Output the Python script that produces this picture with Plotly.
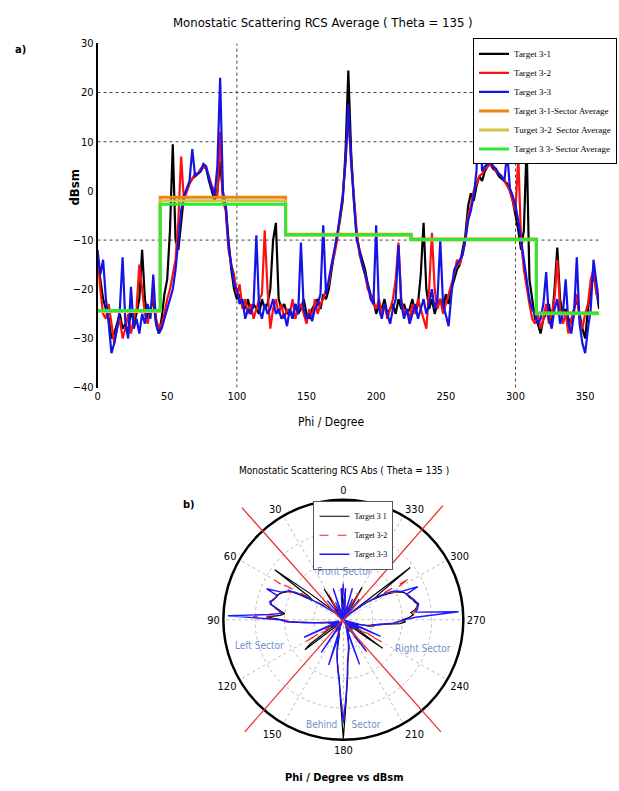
import plotly.graph_objects as go

W, H = 619, 791

# ---------------- data ----------------
phi = list(range(0, 361, 2))  # degrees

target_3_1 = [
    -14, -18, -22, -24, -26, -30, -29, -27, -25, -28,
    -27, -29, -24, -27, -25, -22, -12, -22, -26, -24,
    -22, -27, -29, -26, -21, -18, -8, 9.5, -10, -12,
    -6, -1, 0, 1.5, 2.5, 3, 3.5, 4, 5, 4.5,
    2, 0, -2, 0, 6, -1, -3, -10, -16, -20,
    -22, -21, -23, -24, -22, -25, -23, -24, -25, -22,
    -24, -23, -20, -10, -6.5, -22, -24, -23, -25, -24,
    -26, -23, -25, -24, -22, -25, -26, -24, -23, -22,
    -24, -21, -22, -20, -16, -12, -9, -6, -2, 8,
    24.5, 8, -2, -9, -12, -14, -16, -19, -21, -22,
    -25, -23, -24, -22, -25, -24, -23, -25, -22, -24,
    -23, -25, -24, -22, -25, -23, -17, -6.5, -20, -24,
    -22, -25, -23, -22, -24, -21, -23, -20, -18, -16,
    -15, -12, -9, -3, -0.5, -2, 1, 3, 2, 4,
    5, 5.5, 4.5, 4, 3, 2.5, 2, 1.5, 0, -2,
    -5, -8, -12, -8, 9.5, -18, -22, -26, -27, -29,
    -26, -25, -23, -27, -20, -11.5, -22, -25, -24, -26,
    -27, -24, -22, -25, -28, -30, -24, -20, -17, -20,
    -24,
]

target_3_2 = [
    -13, -20, -25, -26, -23, -27, -31, -28, -26, -30,
    -28, -25, -29, -26, -24, -15, -20, -25, -27, -24,
    -21, -26, -28, -27, -25, -22, -20, -17, -14, -6,
    7, -2, 0, 1.5, 2.5, 3.5, 3.5, 4.5, 5, 4.5,
    3, 1, 0, -1, 12, -2, -4, -12, -15, -17,
    -21, -19, -24, -22, -25, -23, -26, -24, -22, -21,
    -8, -20, -28, -24, -22, -25, -23, -26, -24, -25,
    -22, -26, -24, -23, -25, -27, -24, -26, -22, -25,
    -23, -22, -20, -19, -15, -13, -10, -6, -1, 6,
    15, 6, -1, -8, -13, -15, -17, -20, -21, -23,
    -24, -22, -25, -23, -26, -24, -22, -18, -10.5, -22,
    -25, -24, -26, -23, -25, -22, -24, -26, -28, -20,
    -8.5, -20, -24, -22, -25, -23, -21, -19, -17, -14,
    -15, -13, -10, -5, -3, 0, 1.5, 3, 3.5, 4.5,
    5, 5.5, 5, 4, 3.5, 3, 2, 1, 0, -2,
    -4, 7, -10, -16, -20, -23, -26, -27, -25, -28,
    -26, -23, -27, -25, -22, -14, -24, -27, -25, -29,
    -26, -24, -21, -26, -28, -25, -23, -18, -16, -21,
    -22,
]

target_3_3 = [
    -12, -17, -14, -22, -27, -33, -31, -28, -24, -13.5,
    -27, -30, -19.5, -28, -26, -29, -25, -27, -23, -26,
    -17, -27, -29, -28, -26, -24, -22, -20, -16, -10,
    -4, -1, 0.5, 2, 8.5, 3, 3.5, 4, 5.5, 5,
    2.5, 0.5, -1, 5, 23, 0, -3, -11, -15, -19,
    -20, -23, -22, -26, -24, -25, -23, -9, -24, -26,
    -23, -25, -24, -22, -25, -24, -26, -25, -27.5, -24,
    -26, -23, -25, -10.5, -24, -26, -25, -26.5, -24, -23,
    -21, -7, -21, -18, -15, -12, -9, -5, -1, 6,
    17.5, 6, -3, -10, -12, -15, -17, -19, -22, -23,
    -7, -24, -26, -23, -25, -27, -24, -22, -11, -23,
    -26, -24, -27, -25, -23, -26, -24, -22, -25, -23,
    -20, -24, -22, -10, -23, -25, -27.5, -21, -16, -15,
    -14, -13, -10, -6, -4, -1, 4, 23, 4, 5,
    5.5, 6, 5, 4.5, 3.5, 3, 2, 8, 0.5, -1,
    -3, -6, -10, -14, -19, -22, -24, -25, -27, -26,
    -23, -16.5, -26, -28, -24, -22, -27, -25, -18, -27,
    -29, -25, -13.5, -27, -31, -33, -28, -24, -14, -19,
    -23,
]

assert len(target_3_1) == len(target_3_2) == len(target_3_3) == len(phi)

# sector averages (edges in degrees, one value per sector)
sector_edges = [0, 45, 135, 225, 315, 360]
avg_3_1 = [-24.3, -1.3, -8.8, -9.8, -24.8]
avg_3_2 = [-24.5, -2.0, -9.0, -10.0, -25.0]
avg_3_3 = [-24.3, -2.7, -8.9, -9.9, -24.9]

x_ticks = [0, 50, 100, 150, 200, 250, 300, 350]
y_ticks = [-40, -30, -20, -10, 0, 10, 20, 30]
polar_ticks = [0, 30, 60, 90, 120, 150, 180, 210, 240, 270, 300, 330]

# ---------------- helpers ----------------
def px(x):
    return x / W

def py(y):
    return 1 - y / H

NARROW = "Liberation Sans Narrow, DejaVu Sans Condensed, Arial Narrow, sans-serif"
SERIF = "Liberation Serif, Times New Roman, serif"

fig = go.Figure()

# ---- cartesian plot (a) ----
for name, vals, col in [("Target 3-1", target_3_1, "#000000"),
                        ("Target 3-2", target_3_2, "#ff1010"),
                        ("Target 3-3", target_3_3, "#1414e6")]:
    fig.add_trace(go.Scatter(x=phi, y=vals, mode="lines", name=name,
                             line=dict(color=col, width=2.2),
                             xaxis="x", yaxis="y", legend="legend"))

for name, vals, col in [("Target 3-1-Sector Average", avg_3_1, "#e8860f"),
                        ("Turget 3-2  Sector Average", avg_3_2, "#d2c24e"),
                        ("Target 3 3- Sector Average", avg_3_3, "#33e633")]:
    fig.add_trace(go.Scatter(x=sector_edges, y=vals + [vals[-1]], mode="lines",
                             name=name, line=dict(color=col, width=3, shape="hv"),
                             xaxis="x", yaxis="y", legend="legend"))

# ---- polar plot (b) ----
R_MIN, R_MAX = -28, 25
for name, vals, col, dash, w in [("Target 3 1", target_3_1, "#000000", "solid", 1.2),
                                 ("Target 3-2", target_3_2, "#ff2020", "dash", 1.2),
                                 ("Target 3-3", target_3_3, "#1a1aff", "solid", 1.4)]:
    fig.add_trace(go.Scatterpolar(theta=phi, r=[max(v, R_MIN) for v in vals],
                                  mode="lines", name=name,
                                  line=dict(color=col, width=w, dash=dash),
                                  subplot="polar", legend="legend2"))

# grid shapes for plot (a)
shapes = []
for yv in [20, 10, -10]:
    shapes.append(dict(type="line", xref="x", yref="y", x0=0, x1=360, y0=yv, y1=yv,
                       line=dict(color="#444", width=1, dash="dot"), layer="below"))
for xv in [100, 300]:
    shapes.append(dict(type="line", xref="x", yref="y", x0=xv, x1=xv, y0=-40, y1=30,
                       line=dict(color="#444", width=1, dash="dot"), layer="below"))

# red sector-divider lines on polar plot (b)
shapes.append(dict(type="line", xref="paper", yref="paper",
                   x0=px(240), y0=py(510), x1=px(440), y1=py(738),
                   line=dict(color="#e83030", width=1.3)))
shapes.append(dict(type="line", xref="paper", yref="paper",
                   x0=px(442), y0=py(508), x1=px(243), y1=py(738),
                   line=dict(color="#e83030", width=1.3)))

def ann(text, x, y, size=11, color="black", family=NARROW, angle=0, bold=False):
    return dict(text=f"<b>{text}</b>" if bold else text, x=px(x), y=py(y),
                xref="paper", yref="paper", showarrow=False, textangle=angle,
                font=dict(size=size, color=color, family=family),
                xanchor="center", yanchor="middle")

annotations = [
    ann("Monostatic Scattering RCS Average ( Theta = 135 )", 322, 17, size=13),
    ann("dBsm", 72, 185, size=13, angle=-90, bold=True),
    ann("Phi / Degree", 330, 423, size=12),
    ann("a)", 18, 44, size=11, bold=True),
    ann("b)", 187, 507, size=11, bold=True),
    ann("Monostatic Scattering RCS Abs ( Theta = 135 )", 343, 472, size=10),
    ann("Phi / Degree vs dBsm", 343, 784, size=11, bold=True),
    ann("Front Sector", 343, 575, size=10, color="#6f8fcf"),
    ann("Left Sector", 258, 650, size=10, color="#6f8fcf"),
    ann("Right Sector", 422, 653, size=10, color="#6f8fcf"),
    ann("Behind&nbsp;&nbsp;&nbsp;&nbsp;&nbsp;Sector", 342, 730, size=10, color="#6f8fcf"),
]

R = 122
CX, CY = 342, 624

fig.update_layout(
    width=W, height=H, autosize=False,
    margin=dict(l=0, r=0, t=0, b=0),
    paper_bgcolor="white", plot_bgcolor="white",
    showlegend=True,
    xaxis=dict(domain=[px(95), px(599)], range=[0, 360], tickvals=x_ticks,
               showgrid=False, zeroline=False, showline=False, ticks="",
               tickfont=dict(size=11, family=NARROW, color="black"), anchor="y"),
    yaxis=dict(domain=[py(388), py(38)], range=[-40, 30], tickvals=y_ticks,
               showgrid=False, zeroline=False, showline=True, linecolor="black",
               linewidth=1.5, ticks="",
               tickfont=dict(size=11, family=NARROW, color="black"), anchor="x"),
    polar=dict(
        domain=dict(x=[px(CX - R), px(CX + R)], y=[py(CY + R), py(CY - R)]),
        bgcolor="white",
        angularaxis=dict(rotation=90, direction="counterclockwise",
                         tickvals=polar_ticks, ticktext=[str(t) for t in polar_ticks],
                         tickfont=dict(size=11, family=NARROW, color="black"),
                         showline=True, linecolor="black", linewidth=2.5,
                         gridcolor="#bbbbbb", griddash="dot", ticks=""),
        radialaxis=dict(range=[R_MIN, R_MAX], showticklabels=False, ticks="",
                        showline=False, gridcolor="#bbbbbb", griddash="dot",
                        tickvals=[-15, -2, 11]),
    ),
    legend=dict(x=px(617), xanchor="right", y=py(33), yanchor="top",
                bgcolor="white", bordercolor="black", borderwidth=1,
                font=dict(size=9, family=SERIF, color="black"),
                tracegroupgap=0, itemwidth=30),
    legend2=dict(x=px(312), xanchor="left", y=py(503), yanchor="top",
                 bgcolor="white", bordercolor="#555", borderwidth=1,
                 font=dict(size=8, family=SERIF, color="black"),
                 tracegroupgap=0, itemwidth=30),
    shapes=shapes,
    annotations=annotations,
)

fig.write_html("out.html")
